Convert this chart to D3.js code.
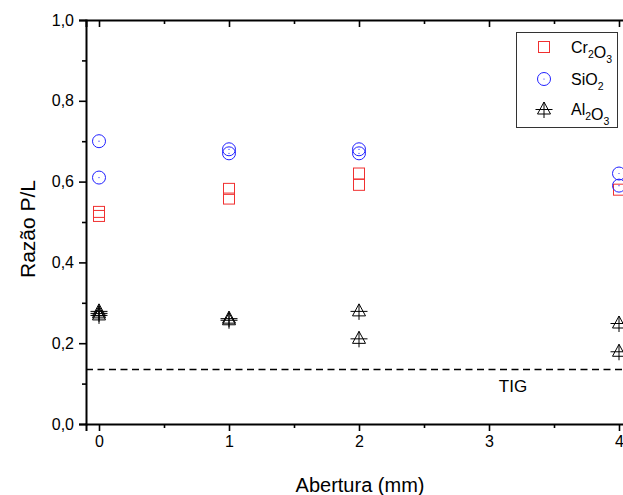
<!DOCTYPE html>
<html>
<head>
<meta charset="utf-8">
<script src="https://cdn.jsdelivr.net/npm/d3@7"></script>
<style>
  body { margin: 0; background: #fff; }
  svg { display: block; font-family: "Liberation Sans", Arial, sans-serif; }
</style>
</head>
<body>
<div id="viz"></div>
<script>
// valores
var xTicks = [0, 1, 2, 3, 4];
var yTicks = [0, 0.2, 0.4, 0.6, 0.8, 1.0];
var crX = [0, 0, 1, 1, 2, 2, 4];
var crY = [0.525, 0.515, 0.582, 0.558, 0.62, 0.592, 0.58];
var siX = [0, 0, 1, 1, 2, 2, 4, 4];
var siY = [0.70, 0.61, 0.68, 0.67, 0.68, 0.67, 0.62, 0.59];
var alX = [0, 0, 0, 1, 1, 2, 2, 4, 4];
var alY = [0.28, 0.275, 0.27, 0.262, 0.258, 0.28, 0.212, 0.25, 0.18];
var tigLevel = 0.135;

var width = 623, height = 495;
var x = d3.scaleLinear().domain([-0.1, 4.1]).range([86, 632]);
var y = d3.scaleLinear().domain([0, 1]).range([424, 20]);

var svg = d3.select("#viz").append("svg")
  .attr("width", width).attr("height", height);

var fmt = function(d) { return d3.format(".1f")(d).replace(".", ","); };

// eixo inferior
svg.append("g").attr("transform", "translate(0," + y(0) + ")")
  .call(d3.axisBottom(x).tickValues(xTicks).tickSize(7).tickPadding(5).tickFormat(d3.format("d")));
svg.append("g").attr("transform", "translate(0," + y(0) + ")")
  .call(d3.axisBottom(x).tickValues([0.5, 1.5, 2.5, 3.5]).tickSize(4).tickFormat(""))
  .select(".domain").remove();

// eixo esquerdo
svg.append("g").attr("transform", "translate(" + x(-0.1) + ",0)")
  .call(d3.axisLeft(y).tickValues(yTicks).tickSize(7).tickPadding(5).tickFormat(fmt));
svg.append("g").attr("transform", "translate(" + x(-0.1) + ",0)")
  .call(d3.axisLeft(y).tickValues([0.1, 0.3, 0.5, 0.7, 0.9]).tickSize(4).tickFormat(""))
  .select(".domain").remove();

// eixo superior (ticks para dentro)
svg.append("g").attr("transform", "translate(0," + y(1) + ")")
  .call(d3.axisTop(x).tickValues(xTicks).tickSize(-7).tickFormat(""));
svg.append("g").attr("transform", "translate(0," + y(1) + ")")
  .call(d3.axisTop(x).tickValues([0.5, 1.5, 2.5, 3.5]).tickSize(-4).tickFormat(""))
  .select(".domain").remove();

svg.selectAll(".domain").attr("stroke", "#000").attr("stroke-width", 2);
svg.selectAll(".tick line").attr("stroke", "#000").attr("stroke-width", 1.6);
svg.selectAll(".tick text").attr("font-size", 16).attr("fill", "#000")
  .attr("font-family", "Liberation Sans, Arial, sans-serif");

// linha TIG
svg.append("line")
  .attr("x1", x(-0.1)).attr("x2", x(4.1))
  .attr("y1", y(tigLevel)).attr("y2", y(tigLevel))
  .attr("stroke", "#000").attr("stroke-width", 1.5)
  .attr("stroke-dasharray", "7,4.5");
svg.append("text").attr("x", 513).attr("y", 392)
  .attr("text-anchor", "middle").attr("font-size", 17).text("TIG");

// símbolos
function square(g, cx, cy) {
  g.append("rect").attr("x", cx - 5.5).attr("y", cy - 5.5)
    .attr("width", 11).attr("height", 11)
    .attr("fill", "none").attr("stroke", "#f03030").attr("stroke-width", 1);
}
function circle(g, cx, cy) {
  g.append("circle").attr("cx", cx).attr("cy", cy).attr("r", 6.5)
    .attr("fill", "none").attr("stroke", "#2020ff").attr("stroke-width", 1);
  g.append("circle").attr("cx", cx).attr("cy", cy).attr("r", 0.6)
    .attr("fill", "#2020ff");
}
function triangle(g, cx, cy) {
  g.append("path")
    .attr("d", "M" + cx + "," + (cy - 7) + "L" + (cx + 6.5) + "," + (cy + 5) + "L" + (cx - 6.5) + "," + (cy + 5) + "Z"
      + "M" + (cx - 8.5) + "," + (cy + 0.5) + "H" + (cx + 8.5)
      + "M" + cx + "," + (cy - 7) + "V" + (cy + 9))
    .attr("fill", "none").attr("stroke", "#000").attr("stroke-width", 1);
}

var marks = svg.append("g");
crX.forEach(function(d, i) { square(marks, x(d), y(crY[i])); });
siX.forEach(function(d, i) { circle(marks, x(d), y(siY[i])); });
alX.forEach(function(d, i) { triangle(marks, x(d), y(alY[i])); });

// legenda
var lg = svg.append("g");
lg.append("rect").attr("x", 516.5).attr("y", 32.5).attr("width", 101).attr("height", 95)
  .attr("fill", "#fff").attr("stroke", "#333").attr("stroke-width", 1);
square(lg, 544, 47);
circle(lg, 544, 79);
triangle(lg, 544, 109);

function legendText(ty, parts) {
  var t = lg.append("text").attr("x", 571).attr("y", ty).attr("font-size", 16);
  parts.forEach(function(p) {
    if (p.sub) {
      t.append("tspan").attr("font-size", 10.5).attr("dy", 5).text(p.t);
      t.append("tspan").attr("dy", -5).text("");
    } else {
      t.append("tspan").text(p.t);
    }
  });
}
legendText(53, [{t: "Cr"}, {t: "2", sub: true}, {t: "O"}, {t: "3", sub: true}]);
legendText(85, [{t: "SiO"}, {t: "2", sub: true}]);
legendText(115, [{t: "Al"}, {t: "2", sub: true}, {t: "O"}, {t: "3", sub: true}]);

// títulos
svg.append("text").attr("x", 360).attr("y", 492).attr("text-anchor", "middle")
  .attr("font-size", 20).text("Abertura (mm)");
svg.append("text").attr("transform", "translate(35,229) rotate(-90)")
  .attr("text-anchor", "middle").attr("font-size", 21).text("Razão P/L");
</script>
</body>
</html>
